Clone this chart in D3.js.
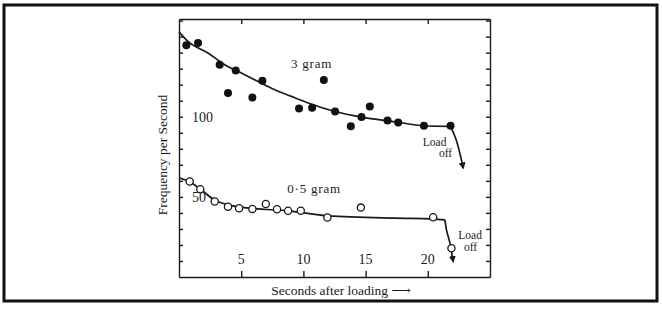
<!DOCTYPE html>
<html>
<head>
<meta charset="utf-8">
<script src="https://cdn.jsdelivr.net/npm/d3@7"></script>
<style>
  html, body { margin: 0; padding: 0; background: #fff; }
  svg { display: block; }
  text { font-family: "Liberation Serif", "DejaVu Serif", serif; fill: #1a1a1a; }
  .axis path, .axis line { stroke: #1a1a1a; stroke-width: 1.4; }
</style>
</head>
<body>
<svg id="chart" width="662" height="309"></svg>
<script>
// seconds after loading / frequency per second
const heavyPoints = [
  [0.59, 144.6], [1.53, 146], [3.27, 132.5], [4.56, 128.8], [3.94, 114.8],
  [5.9, 112], [6.7, 122.5], [9.65, 105.2], [10.7, 105.6], [11.64, 123],
  [12.55, 103.3], [13.81, 94], [14.67, 99.8], [15.34, 106.4], [16.76, 97.7],
  [17.62, 96.4], [19.69, 94.4], [21.83, 94.4]
];
const heavyCurve = [
  [0, 153], [0.72, 147], [2.33, 139.8], [3.68, 132.5], [5.01, 127.3],
  [6.36, 122], [7.7, 116.9], [9.03, 112.7], [10.38, 108.6], [12.53, 103.3],
  [14.67, 99.8], [17.35, 96.9], [19.69, 94.4], [21.83, 94]
];
const heavyDrop = [[21.83, 94], [22.28, 85.6], [22.85, 68]];

const lightPoints = [
  [0.86, 59.6], [1.71, 54.8], [2.87, 47.1], [3.94, 43.9], [4.83, 42.9],
  [5.9, 42.5], [6.98, 45.6], [7.88, 42.3], [8.77, 41.3], [9.79, 41.3],
  [11.93, 37.1], [14.62, 43.3], [20.43, 37.3], [21.9, 17.9]
];
const lightCurve = [
  [0.06, 61.7], [0.86, 59.4], [1.69, 55], [2.87, 48], [3.94, 45],
  [5.87, 42.8], [8.77, 41.3], [11.98, 38.1], [17.35, 36.7], [20.35, 36.3],
  [21.38, 35.6]
];
const lightDrop = [[21.38, 35.6], [21.5, 29.4], [21.78, 21.1], [22.04, 9.6]];

const xTickValues = [5, 10, 15, 20];
const xTickLabels = ['5', '10', '15', '20'];
const yMinorTicks = [10, 20, 30, 40, 50, 60, 70, 80, 90, 100, 110, 120, 130, 140, 150, 160];
const yTickValues = [50, 100];
const yTickLabels = ['50', '100'];

const svg = d3.select('#chart');

// scanned page border
svg.append('rect')
  .attr('x', 4).attr('y', 5)
  .attr('width', 653).attr('height', 296)
  .attr('fill', 'none')
  .attr('stroke', '#111')
  .attr('stroke-width', 3);

const plotLeft = 179, plotRight = 490, plotTop = 19, plotBottom = 277;

const x = d3.scaleLinear().domain([0, 25]).range([plotLeft, plotRight]);
const y = d3.scaleLinear().domain([0, 161]).range([plotBottom, plotTop]);

svg.append('defs').append('marker')
  .attr('id', 'arrow')
  .attr('viewBox', '0 0 10 10')
  .attr('refX', 8).attr('refY', 5)
  .attr('markerWidth', 7).attr('markerHeight', 7)
  .attr('markerUnits', 'userSpaceOnUse')
  .attr('orient', 'auto')
  .append('path')
  .attr('d', 'M0,0 L10,5 L0,10 Z')
  .attr('fill', '#1a1a1a');

// frame + ticks
svg.append('g').attr('class', 'axis')
  .attr('transform', 'translate(0,' + plotBottom + ')')
  .call(d3.axisBottom(x).tickValues(xTickValues).tickSize(-6).tickSizeOuter(0).tickFormat(''));
svg.append('g').attr('class', 'axis')
  .attr('transform', 'translate(0,' + plotTop + ')')
  .call(d3.axisTop(x).tickValues(xTickValues).tickSize(-5).tickSizeOuter(0).tickFormat(''));
svg.append('g').attr('class', 'axis')
  .attr('transform', 'translate(' + plotLeft + ',0)')
  .call(d3.axisLeft(y).tickValues(yMinorTicks).tickSize(-4).tickSizeOuter(0).tickFormat(''));
svg.append('g').attr('class', 'axis')
  .attr('transform', 'translate(' + plotRight + ',0)')
  .call(d3.axisRight(y).tickValues(yMinorTicks).tickSize(-4).tickSizeOuter(0).tickFormat(''));

svg.selectAll('.axis .domain').attr('stroke-width', 1.6);

// tick labels sit inside the frame
svg.selectAll('.xlab')
  .data(xTickValues)
  .join('text')
  .attr('x', d => x(d))
  .attr('y', plotBottom - 13)
  .attr('text-anchor', 'middle')
  .attr('font-size', 14)
  .text((d, i) => xTickLabels[i]);

svg.selectAll('.ylab')
  .data(yTickValues)
  .join('text')
  .attr('x', plotLeft + 13)
  .attr('y', d => y(d) + 5)
  .attr('font-size', 14)
  .text((d, i) => yTickLabels[i]);

const smooth = d3.line().x(d => x(d[0])).y(d => y(d[1])).curve(d3.curveMonotoneX);
const bend = d3.line().x(d => x(d[0])).y(d => y(d[1])).curve(d3.curveCatmullRom);

svg.append('path')
  .datum(heavyCurve)
  .attr('d', smooth)
  .attr('fill', 'none').attr('stroke', '#1a1a1a').attr('stroke-width', 1.7);
svg.append('path')
  .datum(heavyDrop)
  .attr('d', bend)
  .attr('fill', 'none').attr('stroke', '#1a1a1a').attr('stroke-width', 1.7)
  .attr('marker-end', 'url(#arrow)');

svg.append('path')
  .datum(lightCurve)
  .attr('d', smooth)
  .attr('fill', 'none').attr('stroke', '#1a1a1a').attr('stroke-width', 1.7);
svg.append('path')
  .datum(lightDrop)
  .attr('d', bend)
  .attr('fill', 'none').attr('stroke', '#1a1a1a').attr('stroke-width', 1.7)
  .attr('marker-end', 'url(#arrow)');

svg.selectAll('.heavy')
  .data(heavyPoints)
  .join('circle')
  .attr('cx', d => x(d[0]))
  .attr('cy', d => y(d[1]))
  .attr('r', 4)
  .attr('fill', '#111');

svg.selectAll('.light')
  .data(lightPoints)
  .join('circle')
  .attr('cx', d => x(d[0]))
  .attr('cy', d => y(d[1]))
  .attr('r', 3.6)
  .attr('fill', '#fff')
  .attr('stroke', '#1a1a1a')
  .attr('stroke-width', 1.3);

// annotations
svg.append('text').attr('x', x(9.0)).attr('y', y(130.5)).attr('font-size', 13)
  .attr('letter-spacing', 0.8).text('3 gram');
svg.append('text').attr('x', x(8.7)).attr('y', y(52.5)).attr('font-size', 13)
  .attr('letter-spacing', 0.8).text('0·5 gram');
svg.append('text').attr('x', x(19.6)).attr('y', y(82)).attr('font-size', 11.5).text('Load');
svg.append('text').attr('x', x(20.9)).attr('y', y(75)).attr('font-size', 11.5).text('off');
svg.append('text').attr('x', x(22.45)).attr('y', y(24)).attr('font-size', 11.5).text('Load');
svg.append('text').attr('x', x(22.9)).attr('y', y(16)).attr('font-size', 11.5).text('off');

// axis titles
svg.append('text')
  .attr('x', 341).attr('y', 295)
  .attr('text-anchor', 'middle')
  .attr('font-size', 13.5)
  .text('Seconds after loading ⟶');

svg.append('text')
  .attr('transform', 'translate(167,155) rotate(-90)')
  .attr('text-anchor', 'middle')
  .attr('font-size', 13.5)
  .text('Frequency per Second');
</script>
</body>
</html>
